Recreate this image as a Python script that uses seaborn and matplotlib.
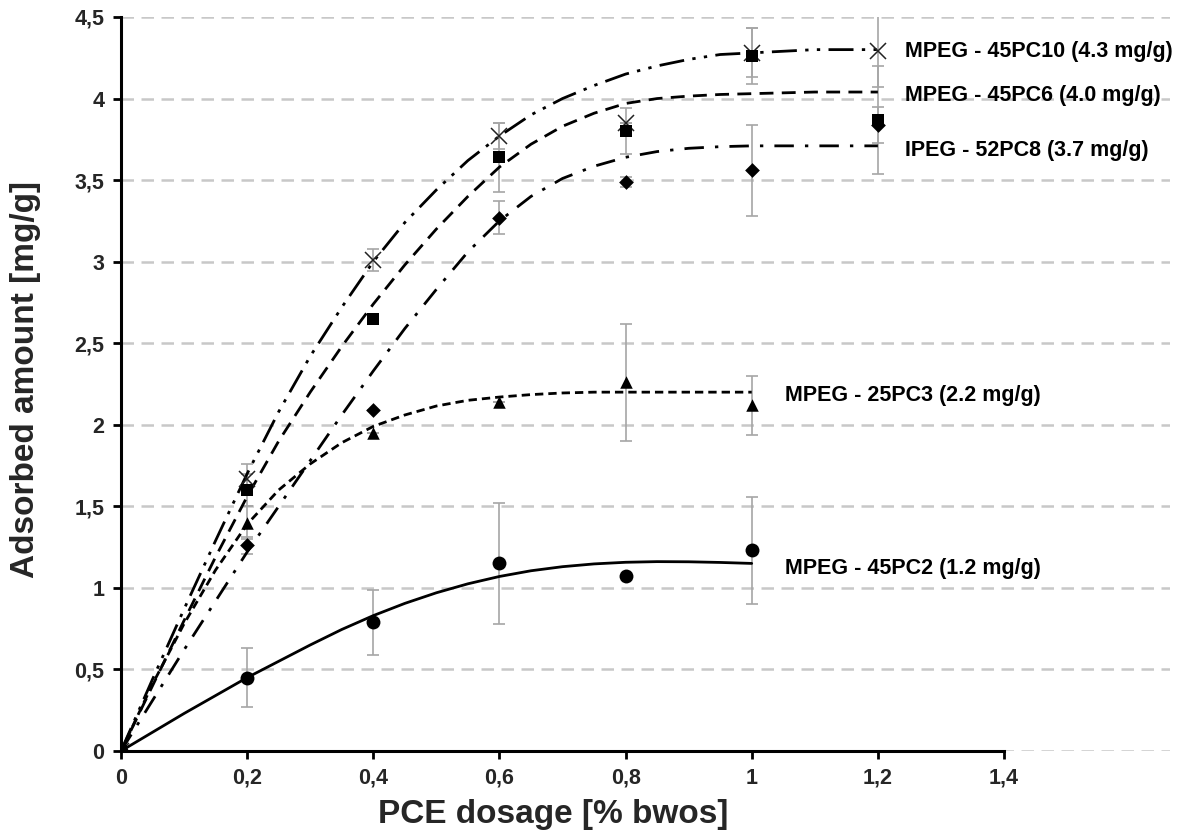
import numpy as np
import pandas as pd
import matplotlib
matplotlib.use("Agg")
import matplotlib.pyplot as plt
import seaborn as sns

# ---------------- data ----------------
dosage = [0.0, 0.2, 0.4, 0.6, 0.8, 1.0, 1.2]
dosage_short = [0.0, 0.2, 0.4, 0.6, 0.8, 1.0]

pc10_y = [0.0, 1.67, 3.01, 3.77, 3.85, 4.28, 4.29]
pc10_err = [0.0, 0.09, 0.07, 0.08, 0.0, 0.15, 0.22]

pc6_y = [0.0, 1.60, 2.65, 3.64, 3.80, 4.26, 3.87]
pc6_err = [0.0, 0.10, 0.0, 0.21, 0.14, 0.17, 0.33]

ipeg_y = [0.0, 1.26, 2.09, 3.27, 3.49, 3.56, 3.84]
ipeg_err = [0.0, 0.05, 0.0, 0.10, 0.03, 0.28, 0.11]

pc3_y = [0.0, 1.40, 1.95, 2.14, 2.26, 2.12]
pc3_err = [0.0, 0.10, 0.0, 0.0, 0.36, 0.18]

pc2_y = [0.0, 0.45, 0.79, 1.15, 1.07, 1.23]
pc2_err = [0.0, 0.18, 0.20, 0.37, 0.0, 0.33]

# trend curves every 0.05 % bwos
curve_x_long = [0.0, 0.05, 0.1, 0.15, 0.2, 0.25, 0.3, 0.35, 0.4, 0.45, 0.5, 0.55, 0.6,
                0.65, 0.7, 0.75, 0.8, 0.85, 0.9, 0.95, 1.0, 1.05, 1.1, 1.15, 1.2]
curve_x_short = [0.0, 0.05, 0.1, 0.15, 0.2, 0.25, 0.3, 0.35, 0.4, 0.45, 0.5, 0.55, 0.6,
                 0.65, 0.7, 0.75, 0.8, 0.85, 0.9, 0.95, 1.0]
pc10_curve = [0.0, 0.44, 0.87, 1.29, 1.70, 2.08, 2.42, 2.72, 3.00, 3.24, 3.44, 3.62, 3.77,
              3.90, 4.00, 4.08, 4.15, 4.20, 4.24, 4.27, 4.28, 4.29, 4.30, 4.30, 4.30]
pc6_curve = [0.0, 0.40, 0.80, 1.19, 1.56, 1.90, 2.20, 2.48, 2.74, 2.98, 3.20, 3.40, 3.58,
             3.72, 3.83, 3.91, 3.97, 4.00, 4.015, 4.025, 4.03, 4.035, 4.04, 4.04, 4.04]
ipeg_curve = [0.0, 0.31, 0.62, 0.92, 1.22, 1.50, 1.78, 2.06, 2.33, 2.59, 2.83, 3.06, 3.25,
              3.40, 3.51, 3.585, 3.64, 3.675, 3.695, 3.705, 3.71, 3.71, 3.71, 3.71, 3.71]
pc3_curve = [0.0, 0.41, 0.78, 1.11, 1.39, 1.60, 1.76, 1.89, 1.99, 2.06, 2.115, 2.15, 2.17,
             2.185, 2.195, 2.20, 2.20, 2.20, 2.20, 2.20, 2.20]
pc2_curve = [0.0, 0.115, 0.23, 0.34, 0.45, 0.55, 0.65, 0.745, 0.83, 0.905, 0.97, 1.025,
             1.07, 1.105, 1.13, 1.147, 1.157, 1.161, 1.16, 1.156, 1.15]

series_labels = ["MPEG - 45PC10 (4.3 mg/g)", "MPEG - 45PC6 (4.0 mg/g)",
                 "IPEG - 52PC8 (3.7 mg/g)", "MPEG - 25PC3 (2.2 mg/g)",
                 "MPEG - 45PC2 (1.2 mg/g)"]
label_x = [1.243, 1.243, 1.243, 1.052, 1.052]
label_y = [4.29, 4.02, 3.68, 2.18, 1.12]

x_ticks = [0.0, 0.2, 0.4, 0.6, 0.8, 1.0, 1.2, 1.4]
x_ticklabels = ["0", "0,2", "0,4", "0,6", "0,8", "1", "1,2", "1,4"]
y_ticks = [0.0, 0.5, 1.0, 1.5, 2.0, 2.5, 3.0, 3.5, 4.0, 4.5]
y_ticklabels = ["0", "0,5", "1", "1,5", "2", "2,5", "3", "3,5", "4", "4,5"]

# ---------------- styling ----------------
sns.set_theme(style="white")
plt.rcParams["font.family"] = ["Liberation Sans", "DejaVu Sans"]

fig = plt.figure(figsize=(11.88, 8.40), dpi=100)
ax = fig.add_axes([121 / 1188, 1 - 751 / 840, (1170 - 121) / 1188, (751 - 17) / 840])

x_max_view = 1.4 * (1170 - 121) / (1004 - 121)

series = [
    (dosage, pc10_y, pc10_err, curve_x_long, pc10_curve, "x", 11, (0, (9, 3, 1.2, 3, 1.2, 3))),
    (dosage, pc6_y, pc6_err, curve_x_long, pc6_curve, "s", 9, (0, (5, 3))),
    (dosage, ipeg_y, ipeg_err, curve_x_long, ipeg_curve, "D", 7.5, (0, (7, 4, 1.2, 4))),
    (dosage_short, pc3_y, pc3_err, curve_x_short, pc3_curve, "^", 9, (0, (3, 1.8))),
    (dosage_short, pc2_y, pc2_err, curve_x_short, pc2_curve, "o", 10, "-"),
]

for xs, ys, es, cx, cy, mk, ms, ls in series:
    ax.errorbar(xs, ys, yerr=es, fmt="none", ecolor="#a6a6a6", elinewidth=1.2,
                capsize=4, capthick=1.2, zorder=2)
    sns.lineplot(x=cx, y=cy, ax=ax, color="black", lw=2.0, linestyle=ls,
                 sort=False, estimator=None, zorder=3)
    if mk == "x":
        ax.plot(xs, ys, linestyle="none", marker="x", markersize=ms,
                markeredgewidth=1.1, color="#222222", zorder=4)
    else:
        sns.scatterplot(x=xs, y=ys, ax=ax, marker=mk, s=ms ** 2, color="black",
                        edgecolor="black", linewidth=0, zorder=4)

for txt, tx, ty in zip(series_labels, label_x, label_y):
    ax.text(tx, ty, txt, fontsize=15.5, fontweight="bold", va="center", ha="left",
            color="black", clip_on=False)

ax.set_xlim(0, x_max_view)
ax.set_ylim(0, 4.5)

ax.set_yticks(y_ticks)
ax.set_yticklabels(y_ticklabels)
ax.set_xticks(x_ticks)
ax.set_xticklabels(x_ticklabels)
ax.yaxis.grid(True, linestyle=(0, (5, 3)), color="#c8c8c8", linewidth=1.8)
ax.xaxis.grid(False)
ax.set_axisbelow(True)

for side in ["top", "right"]:
    ax.spines[side].set_visible(False)
for side in ["left", "bottom"]:
    ax.spines[side].set_color("black")
    ax.spines[side].set_linewidth(2.2)
ax.spines["bottom"].set_bounds(0, 1.4)

ax.tick_params(axis="both", which="major", direction="out", length=6, width=2,
               color="black", labelsize=15.5, pad=6)
ax.tick_params(axis="x", bottom=True)
ax.tick_params(axis="y", left=True)
for lab in ax.get_xticklabels() + ax.get_yticklabels():
    lab.set_fontweight("bold")

ax.set_xlabel("PCE dosage [% bwos]", fontsize=24, fontweight="bold")
ax.set_ylabel("Adsorbed amount [mg/g]", fontsize=24, fontweight="bold")
ax.xaxis.set_label_coords((553 - 121) / (1170 - 121), -(815 - 751) / (751 - 17))
ax.yaxis.set_label_coords(-(121 - 26) / (1170 - 121), (751 - 380) / (751 - 17))
ax.xaxis.label.set_va("center")
ax.yaxis.label.set_va("center")

fig.savefig("out.png", dpi=100)
